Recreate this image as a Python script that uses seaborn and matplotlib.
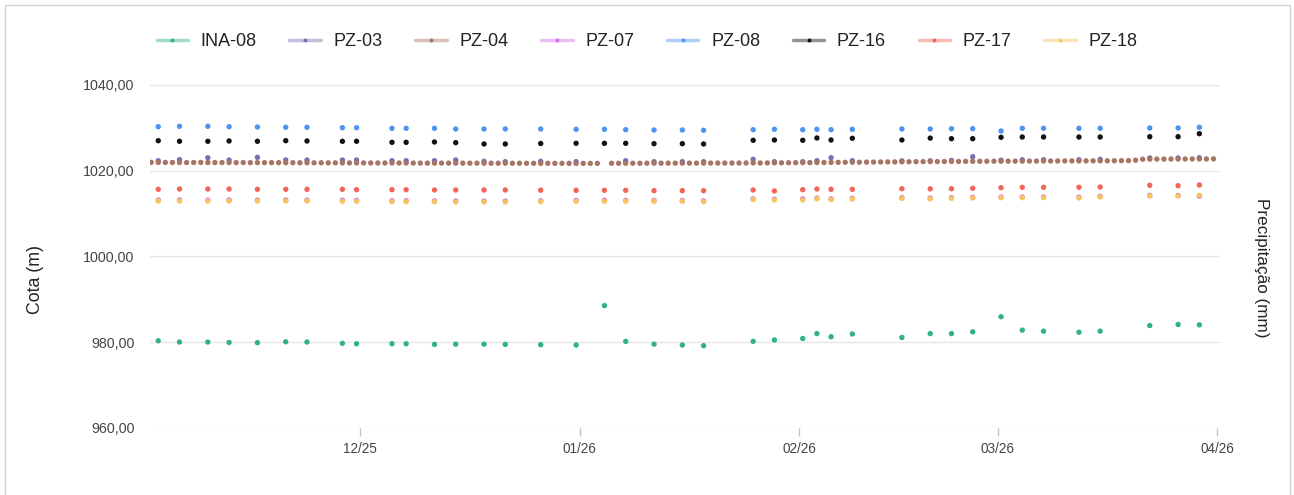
import numpy as np
import pandas as pd
import matplotlib
matplotlib.use("Agg")
import matplotlib.pyplot as plt
import matplotlib.dates as mdates
from matplotlib.lines import Line2D
from matplotlib.patches import Rectangle
from matplotlib.colors import to_rgb
import seaborn as sns

# ---------------- data ----------------
series_names = ["INA-08", "PZ-03", "PZ-04", "PZ-07", "PZ-08", "PZ-16", "PZ-17", "PZ-18"]

reading_dates = [
    "2025-11-02", "2025-11-05", "2025-11-09", "2025-11-12", "2025-11-16", "2025-11-20",
    "2025-11-23", "2025-11-28", "2025-11-30", "2025-12-05", "2025-12-07", "2025-12-11",
    "2025-12-14", "2025-12-18", "2025-12-21", "2025-12-26", "2025-12-31", "2026-01-04",
    "2026-01-07", "2026-01-11", "2026-01-15", "2026-01-18", "2026-01-25", "2026-01-28",
    "2026-02-01", "2026-02-03", "2026-02-05", "2026-02-08", "2026-02-15", "2026-02-19",
    "2026-02-22", "2026-02-25", "2026-03-01", "2026-03-04", "2026-03-07", "2026-03-12",
    "2026-03-15", "2026-03-22", "2026-03-26", "2026-03-29",
]

ina_08 = [980.30, 980.00, 980.00, 979.90, 979.85, 980.05, 980.00, 979.70, 979.60, 979.60,
          979.60, 979.45, 979.50, 979.50, 979.45, 979.37, 979.30, 988.50, 980.15, 979.50,
          979.30, 979.15, 980.16, 980.49, 980.82, 981.97, 981.23, 981.88, 981.06, 981.97,
          981.97, 982.38, 985.90, 982.78, 982.54, 982.29, 982.54, 983.85, 984.10, 984.01]

pz_03 = [1022.33, 1022.57, 1023.03, 1022.49, 1023.10, 1022.49, 1022.49, 1022.49, 1022.49, 1022.33,
         1022.33, 1022.33, 1022.49, 1022.18, 1022.10, 1022.18, 1022.10, np.nan, 1022.33, 1022.10,
         1022.10, 1022.10, 1022.65, 1022.10, 1022.10, 1022.33, 1023.03, 1022.33, 1022.30, 1022.30,
         1022.40, 1023.27, 1022.45, 1022.55, 1022.55, 1022.55, 1022.65, 1022.96, 1022.96, 1023.03]

pz_07 = [1013.15, 1013.15, 1013.12, 1013.15, 1013.12, 1013.15, 1013.12, 1013.08, 1013.05, 1012.98,
         1012.98, 1012.95, 1012.92, 1012.90, 1012.90, 1012.95, 1013.05, 1013.08, 1013.05, 1013.05,
         1013.05, 1012.95, 1013.40, 1013.35, 1013.42, 1013.60, 1013.40, 1013.55, 1013.70, 1013.60,
         1013.70, 1013.78, 1013.85, 1013.85, 1013.85, 1013.80, 1014.00, 1014.25, 1014.22, 1014.05]

pz_08 = [1030.27, 1030.36, 1030.36, 1030.27, 1030.20, 1030.13, 1030.13, 1030.03, 1030.03, 1029.89,
         1029.89, 1029.89, 1029.73, 1029.73, 1029.73, 1029.73, 1029.66, 1029.66, 1029.57, 1029.50,
         1029.50, 1029.43, 1029.57, 1029.66, 1029.57, 1029.66, 1029.57, 1029.66, 1029.73, 1029.73,
         1029.80, 1029.80, 1029.26, 1029.89, 1029.89, 1029.89, 1029.89, 1029.96, 1029.96, 1030.13]

pz_16 = [1027.00, 1026.86, 1026.86, 1026.93, 1026.86, 1027.00, 1026.93, 1026.86, 1026.86, 1026.62,
         1026.62, 1026.70, 1026.54, 1026.23, 1026.23, 1026.35, 1026.39, 1026.39, 1026.39, 1026.30,
         1026.30, 1026.23, 1027.09, 1027.16, 1027.09, 1027.63, 1027.16, 1027.56, 1027.16, 1027.60,
         1027.47, 1027.47, 1027.79, 1027.86, 1027.86, 1027.86, 1027.86, 1027.93, 1027.93, 1028.63]

pz_17 = [1015.65, 1015.72, 1015.72, 1015.72, 1015.65, 1015.65, 1015.65, 1015.65, 1015.56, 1015.56,
         1015.56, 1015.49, 1015.49, 1015.49, 1015.49, 1015.45, 1015.42, 1015.42, 1015.42, 1015.33,
         1015.33, 1015.33, 1015.49, 1015.26, 1015.56, 1015.72, 1015.65, 1015.65, 1015.79, 1015.75,
         1015.79, 1015.89, 1016.03, 1016.12, 1016.12, 1016.12, 1016.19, 1016.59, 1016.49, 1016.66]

pz_18 = [1012.92, 1012.92, 1012.92, 1012.92, 1012.92, 1012.92, 1012.92, 1012.85, 1012.85, 1012.76,
         1012.76, 1012.76, 1012.69, 1012.69, 1012.69, 1012.75, 1012.85, 1012.85, 1012.85, 1012.85,
         1012.85, 1012.76, 1013.23, 1013.16, 1013.16, 1013.46, 1013.23, 1013.39, 1013.55, 1013.42,
         1013.55, 1013.62, 1013.69, 1013.69, 1013.69, 1013.62, 1013.86, 1014.09, 1014.09, 1014.25]

# PZ-04: daily readings, 2025-11-01 .. 2026-03-31
pz_04_start = "2025-11-01"
pz_04 = [
    # Nov
    1021.93, 1021.92, 1021.92, 1021.91, 1021.91, 1021.90, 1021.90, 1021.92, 1021.91, 1021.90,
    1021.89, 1021.89, 1021.90, 1021.89, 1021.88, 1021.88, 1021.87, 1021.88, 1021.87, 1021.86,
    1021.86, 1021.85, 1021.85, 1021.84, 1021.84, 1021.83, 1021.83, 1021.82, 1021.82, 1021.81,
    # Dec
    1021.81, 1021.80, 1021.80, 1021.79, 1021.79, 1021.79, 1021.78, 1021.78, 1021.78, 1021.77,
    1021.77, 1021.77, 1021.76, 1021.76, 1021.76, 1021.75, 1021.75, 1021.75, 1021.74, 1021.74,
    1021.74, 1021.73, 1021.73, 1021.73, 1021.72, 1021.72, 1021.72, 1021.71, 1021.71, 1021.71,
    1021.70,
    # Jan
    1021.70, 1021.70, 1021.70, np.nan, 1021.72, 1021.72, 1021.73, 1021.73, 1021.73, 1021.74,
    1021.74, 1021.74, 1021.75, 1021.75, 1021.76, 1021.76, 1021.76, 1021.77, 1021.77, 1021.78,
    1021.78, 1021.79, 1021.79, 1021.80, 1021.80, 1021.81, 1021.82, 1021.83, 1021.84, 1021.85,
    1021.86,
    # Feb
    1021.87, 1021.88, 1021.90, 1021.91, 1021.93, 1021.94, 1021.95, 1021.97, 1021.98, 1022.00,
    1022.01, 1022.03, 1022.04, 1022.05, 1022.07, 1022.08, 1022.10, 1022.11, 1022.12, 1022.13,
    1022.14, 1022.15, 1022.16, 1022.17, 1022.18, 1022.19, 1022.20, 1022.21,
    # Mar
    1022.21, 1022.22, 1022.22, 1022.23, 1022.24, 1022.24, 1022.25, 1022.26, 1022.26, 1022.27,
    1022.28, 1022.28, 1022.29, 1022.30, 1022.30, 1022.31, 1022.32, 1022.33, 1022.34, 1022.45,
    1022.68, 1022.70, 1022.71, 1022.71, 1022.72, 1022.72, 1022.73, 1022.73, 1022.74, 1022.74,
    1022.75,
]

y_ticks = [960, 980, 1000, 1020, 1040]
month_ticks = ["2025-12-01", "2026-01-01", "2026-02-01", "2026-03-01", "2026-04-01"]

colors = {
    "INA-08": "#2fb380",
    "PZ-03": "#7a6fb5",
    "PZ-04": "#a87565",
    "PZ-07": "#d46be6",
    "PZ-08": "#4d93f0",
    "PZ-16": "#111111",
    "PZ-17": "#f2645a",
    "PZ-18": "#f7c45e",
}

# ---------------- build long table ----------------
sparse_dates = pd.to_datetime(reading_dates) + pd.Timedelta(hours=12)
daily_dates = pd.date_range(pz_04_start, periods=len(pz_04), freq="D") + pd.Timedelta(hours=12)

values = {
    "INA-08": (sparse_dates, ina_08),
    "PZ-03": (sparse_dates, pz_03),
    "PZ-04": (daily_dates, pz_04),
    "PZ-07": (sparse_dates, pz_07),
    "PZ-08": (sparse_dates, pz_08),
    "PZ-16": (sparse_dates, pz_16),
    "PZ-17": (sparse_dates, pz_17),
    "PZ-18": (sparse_dates, pz_18),
}
frames = []
for name in series_names:
    d, v = values[name]
    frames.append(pd.DataFrame({"data": d, "cota": v, "serie": name}))
df = pd.concat(frames, ignore_index=True).dropna()

# ---------------- plot ----------------
sns.set_theme(style="white")
plt.rcParams["font.family"] = ["Liberation Sans", "DejaVu Sans"]

W, H = 1294, 495
fig = plt.figure(figsize=(W / 100, H / 100), dpi=100)
fig.patch.set_facecolor("white")
ax = fig.add_axes([150 / W, (H - 427.7) / H, 1070 / W, (427.7 - 85) / H])

sns.scatterplot(data=df, x="data", y="cota", hue="serie", hue_order=series_names,
                palette=colors, s=15, linewidth=0, legend=False, ax=ax, zorder=3)

x0 = pd.Timestamp("2025-11-01") + pd.Timedelta(hours=8)
x1 = pd.Timestamp("2026-04-01") + pd.Timedelta(hours=10)
ax.set_xlim(x0, x1)
ax.set_ylim(960, 1040)
ax.set_yticks(y_ticks)
ax.yaxis.set_major_formatter(matplotlib.ticker.FuncFormatter(
    lambda v, p: f"{v:.2f}".replace(".", ",")))
ax.set_xticks(pd.to_datetime(month_ticks))
ax.xaxis.set_major_formatter(mdates.DateFormatter("%m/%y"))

for s in ax.spines.values():
    s.set_visible(False)
ax.yaxis.grid(True, color="#e6e6e6", lw=1)
ax.xaxis.grid(False)
ax.set_axisbelow(True)
ax.tick_params(axis="y", length=0, pad=11, labelsize=10.3, labelcolor="#444444")
ax.tick_params(axis="x", length=6, width=1, color="#c4c4c4", pad=4,
               labelsize=9.8, labelcolor="#444444", bottom=True)
ax.set_xlabel("")
ax.set_ylabel("")

fig.text(35 / W, 1 - 280 / H, "Cota (m)", rotation=90, ha="center", va="center",
         fontsize=12.8, color="#222222")
fig.text(1262 / W, 1 - 268 / H, "Precipitação (mm)", rotation=270, ha="center", va="center",
         fontsize=12.3, color="#222222")

# legend
def lighten(c, f=0.55):
    r, g, b = to_rgb(c)
    return (r + (1 - r) * f, g + (1 - g) * f, b + (1 - b) * f)

handles = [Line2D([0], [0], color=lighten(colors[n]), lw=2.5, marker="o", markersize=2.8,
                  markerfacecolor=colors[n], markeredgewidth=0) for n in series_names]
fig.legend(handles, series_names, loc="center", bbox_to_anchor=(647 / W, 1 - 42 / H),
           ncol=8, frameon=False, fontsize=13, handlelength=1.75, handletextpad=0.7,
           columnspacing=1.8, labelcolor="#222222")

# card border
fig.add_artist(Rectangle((4.5 / W, -0.05), (1290 - 4.5) / W, 1 - 5 / H + 0.05,
                         transform=fig.transFigure, fill=False, edgecolor="#d4d4d4", lw=1))

fig.savefig("out.png", dpi=100, facecolor="white")
